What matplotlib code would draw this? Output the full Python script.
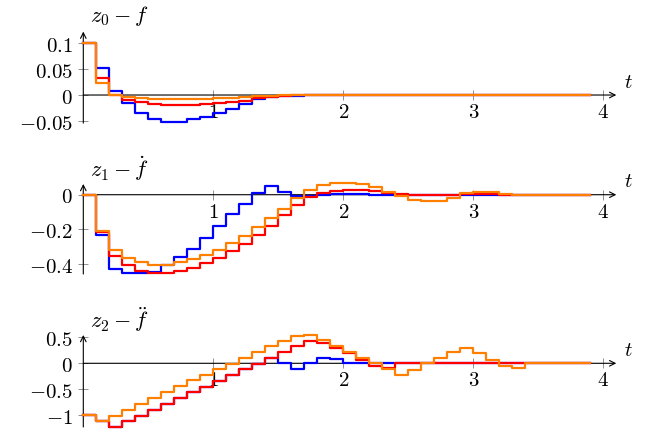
import numpy as np
import matplotlib
matplotlib.use("Agg")
import matplotlib.pyplot as plt

plt.rcParams['mathtext.fontset'] = 'cm'
plt.rcParams['font.family'] = ['DejaVu Serif']

t = [round(0.1 * k, 1) for k in range(40)]

# z0 - f
z0_blue = [0.1, 0.052, 0.008, -0.016, -0.035, -0.046, -0.051, -0.051, -0.046, -0.042,
           -0.035, -0.026, -0.017, -0.008, -0.0045, -0.002, -0.001, 0, 0, 0,
           0, 0, 0, 0, 0, 0, 0, 0, 0, 0,
           0, 0, 0, 0, 0, 0, 0, 0, 0, 0]
z0_red = [0.1, 0.033, 0.0, -0.009, -0.013, -0.017, -0.019, -0.019, -0.019, -0.018,
          -0.016, -0.014, -0.011, -0.0065, -0.003, -0.001, 0, 0, 0, 0,
          0, 0, 0, 0, 0, 0, 0, 0, 0, 0,
          0, 0, 0, 0, 0, 0, 0, 0, 0, 0]
z0_orange = [0.1, 0.023, 0.0, -0.0045, -0.0065, -0.007, -0.007, -0.007, -0.007, -0.007,
             -0.0065, -0.005, -0.003, -0.002, -0.001, 0, 0, 0, 0, 0,
             0, 0, 0, 0, 0, 0, 0, 0, 0, 0,
             0, 0, 0, 0, 0, 0, 0, 0, 0, 0]

# z1 - f dot
z1_blue = [0, -0.231, -0.429, -0.454, -0.454, -0.447, -0.406, -0.36, -0.313, -0.248,
           -0.179, -0.11, -0.054, 0.01, 0.05, 0.013, -0.006, -0.005, -0.002, 0.004,
           0.005, 0.003, 0.001, 0, 0, 0, 0, 0, 0, 0,
           0, 0, 0, 0, 0, 0, 0, 0, 0, 0]
z1_red = [0, -0.217, -0.356, -0.406, -0.438, -0.454, -0.454, -0.44, -0.42, -0.394,
          -0.362, -0.323, -0.285, -0.233, -0.179, -0.115, -0.06, -0.015, 0.01, 0.023,
          0.029, 0.029, 0.02, 0.01, 0.003, -0.002, -0.003, -0.002, 0, 0.002,
          0.003, 0.002, 0.001, 0, 0, 0, 0, 0, 0, 0]
z1_orange = [0, -0.208, -0.317, -0.363, -0.39, -0.406, -0.406, -0.39, -0.371, -0.348,
             -0.317, -0.279, -0.24, -0.188, -0.135, -0.08, -0.02, 0.03, 0.055, 0.066,
             0.067, 0.062, 0.042, 0.017, -0.006, -0.029, -0.038, -0.035, -0.021, 0.01,
             0.017, 0.017, 0.004, 0, 0, 0, 0, 0, 0, 0]

# z2 - f ddot
z2_blue = [-1, -1.11, -1.22, -1.11, -1.01, -0.9, -0.78, -0.67, -0.56, -0.45,
           -0.333, -0.224, -0.115, -0.006, 0.109, 0.0, -0.1, 0.0, 0.11, 0.09,
           0, 0, 0, 0, 0, 0, 0, 0, 0, 0,
           0, 0, 0, 0, 0, 0, 0, 0, 0, 0]
z2_red = [-1, -1.11, -1.22, -1.11, -1.01, -0.9, -0.78, -0.67, -0.56, -0.45,
          -0.333, -0.224, -0.115, -0.006, 0.109, 0.21, 0.33, 0.43, 0.39, 0.29,
          0.19, 0.07, -0.045, -0.09, 0, 0, 0, 0, 0, 0,
          0, 0, 0, 0, 0, 0, 0, 0, 0, 0]
z2_orange = [-1, -1.11, -1.01, -0.89, -0.78, -0.67, -0.56, -0.44, -0.33, -0.22,
             -0.115, -0.006, 0.109, 0.218, 0.327, 0.42, 0.525, 0.535, 0.44, 0.33,
             0.21, 0.11, 0.01, -0.11, -0.22, -0.12, 0, 0.1, 0.21, 0.29,
             0.19, 0.07, -0.045, -0.083, 0, 0, 0, 0, 0, 0]

panels = [
    (r'$z_0 - f$', [z0_blue, z0_red, z0_orange], (-0.054, 0.122),
     [-0.05, 0, 0.05, 0.1], [r'$-0.05$', r'$0$', r'$0.05$', r'$0.1$'], 124.1),
    (r'$z_1 - \dot{f}$', [z1_blue, z1_red, z1_orange], (-0.457, 0.062),
     [-0.4, -0.2, 0], [r'$-0.4$', r'$-0.2$', r'$0$'], 275.0),
    (r'$z_2 - \ddot{f}$', [z2_blue, z2_red, z2_orange], (-1.225, 0.545),
     [-1, -0.5, 0, 0.5], [r'$-1$', r'$-0.5$', r'$0$', r'$0.5$'], 428.0),
]
px_per_unit = [520.0, 173.5, 52.0]
colors = ['#0000ff', '#ff0000', '#ff8000']

W, H = 646, 435
fig = plt.figure(figsize=(W / 100, H / 100), dpi=100)
fs = 15

for (title, series, ylim, yt, ytl, bottom_px), ppu in zip(panels, px_per_unit):
    h_px = (ylim[1] - ylim[0]) * ppu
    ax = fig.add_axes([83.3 / W, 1 - bottom_px / H, 533 / W, h_px / H])
    for y, c in zip(series, colors):
        ax.step(t, y, where='post', color=c, lw=1.6, zorder=3, clip_on=False)
    ax.set_xlim(0, 4.1)
    ax.set_ylim(*ylim)
    for s in ax.spines.values():
        s.set_visible(False)
    ax.spines['left'].set_position(('data', 0))
    ax.spines['bottom'].set_position(('data', 0))
    ax.set_xticks([1, 2, 3, 4])
    ax.set_xticklabels([r'$1$', r'$2$', r'$3$', r'$4$'])
    ax.set_yticks(yt)
    ax.set_yticklabels(ytl)
    ax.tick_params(direction='inout', length=7, width=0.6, color='#808080',
                   labelsize=fs)
    ax.tick_params(axis='x', pad=1.5)
    ax.tick_params(axis='y', pad=4)
    ax.annotate('', xy=(0, 1), xycoords=ax.get_xaxis_transform(),
                xytext=(0, 0), textcoords=ax.get_xaxis_transform(),
                arrowprops=dict(arrowstyle='->', lw=0.8, color='black',
                                shrinkA=0, shrinkB=0), zorder=2)
    ax.annotate('', xy=(1, 0), xycoords=ax.get_yaxis_transform(),
                xytext=(0, 0), textcoords=ax.get_yaxis_transform(),
                arrowprops=dict(arrowstyle='->', lw=0.8, color='black',
                                shrinkA=0, shrinkB=0), zorder=2)
    ax.annotate(r'$t$', xy=(1, 0), xycoords=ax.get_yaxis_transform(),
                xytext=(9, 10), textcoords='offset points', fontsize=fs,
                ha='center', va='center')
    ax.annotate(title, xy=(0, 1), xycoords='axes fraction',
                xytext=(26, 12), textcoords='offset points', fontsize=16,
                ha='center', va='center')

fig.savefig('out.png', dpi=100)
